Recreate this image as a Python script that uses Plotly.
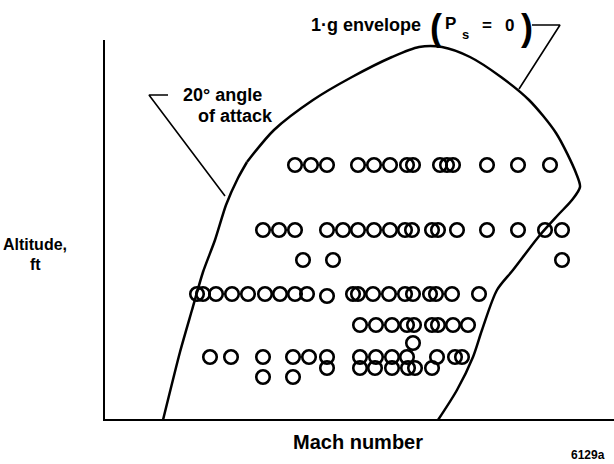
import plotly.graph_objects as go

# Chart units: origin at the axes corner (schematic, no numeric scale)
# Flight-test points (Mach, altitude)
mach_pts = [
    # row 1
    191, 207, 223, 254, 270, 286, 303, 309, 336, 343, 349, 383, 414, 446,
    # row 2
    159, 175, 191, 223, 239, 254, 270, 286, 301, 308, 328, 334, 353, 383, 414, 441, 458,
    # row 2b
    199, 229, 458,
    # row 3
    93, 99, 112, 128, 144, 161, 176, 191, 203, 223, 249, 254, 269, 285, 301, 309, 326, 332, 348, 375,
    # row 4
    256, 272, 288, 303, 310, 328, 334, 349, 364,
    # row 4b
    309,
    # row 5
    106, 127, 159, 189, 205, 223, 256, 272, 288, 303, 333, 351, 358,
    # row 5b
    223, 256, 271, 288, 304, 311, 328,
    # row 5c
    159, 189,
]
alt_pts = (
    [255] * 14
    + [190] * 17
    + [160] * 3
    + [126] * 9 + [124] + [126] * 10
    + [95] * 9
    + [77]
    + [63] * 13
    + [52] * 7
    + [43] * 2
)

# 20-deg angle-of-attack boundary (left side of envelope)
aoa_mach = [59, 76, 88, 99, 111, 122, 134, 143]
aoa_alt = [0, 68, 110, 148, 180, 215, 242, 258]

# 1-g envelope (Ps = 0)
env_mach = [143, 170, 209, 248, 288, 315, 338, 366, 397, 425, 452, 472, 476, 468, 454, 436, 409, 393, 378, 369, 353, 334]
env_alt = [258, 290, 320, 343, 363, 373, 373, 363, 343, 320, 287, 247, 233, 220, 205, 185, 150, 130, 90, 63, 30, 0]

# Axes extents
x_axis_len = 510
y_axis_len = 380

# Label leader lines
lead_env_mach = [428, 456, 415]
lead_env_alt = [395, 395, 331]
lead_aoa_mach = [64, 45, 121]
lead_aoa_alt = [325, 325, 224]

FONT = "Liberation Sans, Arial, Helvetica, sans-serif"

fig = go.Figure()

# axes
fig.add_trace(go.Scatter(x=[0, 0, x_axis_len], y=[y_axis_len, 0, 0], mode="lines",
                         line=dict(color="black", width=2), hoverinfo="skip"))
# boundaries
fig.add_trace(go.Scatter(x=aoa_mach, y=aoa_alt, mode="lines",
                         line=dict(color="black", width=2.5, shape="spline", smoothing=0.6),
                         hoverinfo="skip"))
fig.add_trace(go.Scatter(x=env_mach, y=env_alt, mode="lines",
                         line=dict(color="black", width=2.5, shape="spline", smoothing=0.8),
                         hoverinfo="skip"))
# leaders
fig.add_trace(go.Scatter(x=lead_env_mach, y=lead_env_alt, mode="lines",
                         line=dict(color="black", width=1.6), hoverinfo="skip"))
fig.add_trace(go.Scatter(x=lead_aoa_mach, y=lead_aoa_alt, mode="lines",
                         line=dict(color="black", width=1.6), hoverinfo="skip"))
# data points
fig.add_trace(go.Scatter(x=mach_pts, y=alt_pts, mode="markers",
                         marker=dict(symbol="circle-open", size=13.5, color="black",
                                     line=dict(width=2.6, color="black")),
                         cliponaxis=False, hoverinfo="skip"))

def txt(x, y, s, size=16, **kw):
    fig.add_annotation(x=x, y=y, xref="x", yref="y", text=s, showarrow=False,
                       font=dict(family=FONT, size=size, color="black"), **kw)

txt(262, 395, "<b>1·g envelope</b>", 18)
txt(332, 393, "<b>(</b>", 36)
txt(423, 393, "<b>)</b>", 36)
txt(346, 397, "<b>P</b>", 17)
txt(361, 386, "<b>s</b>", 13)
txt(383, 395, "<b>=</b>", 17)
txt(405, 395, "<b>0</b>", 17)
txt(118, 325, "<b>20° angle</b>", 18)
txt(131, 304, "<b>of attack</b>", 18)
txt(-69, 176, "<b>Altitude,</b>", 16)
txt(-69, 156, "<b>ft</b>", 16)
txt(254, -22, "<b>Mach number</b>", 20)
txt(484, -35, "<b>6129a</b>", 12)

fig.update_layout(
    width=614, height=464,
    margin=dict(l=0, r=0, t=0, b=0),
    paper_bgcolor="white", plot_bgcolor="white",
    showlegend=False,
    hovermode=False,
    xaxis=dict(range=[-104, 510], visible=False, fixedrange=True),
    yaxis=dict(range=[-44, 420], visible=False, fixedrange=True),
)

fig.write_html("out.html", config={"displayModeBar": False, "staticPlot": True},
               post_script="document.body.style.margin='0';document.body.style.overflow='hidden';")
